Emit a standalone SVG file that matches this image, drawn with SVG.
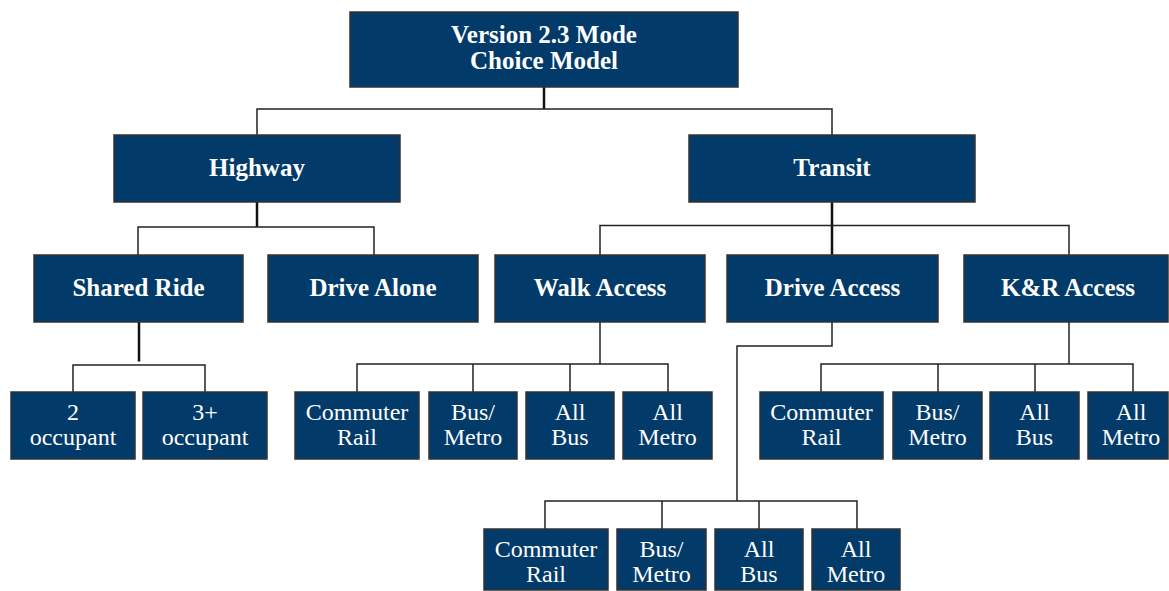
<svg xmlns="http://www.w3.org/2000/svg" width="1169" height="591" viewBox="0 0 1169 591">
<style>
.box{fill:#023a69;stroke:#333;stroke-width:1.5}
.t{font-family:"Liberation Serif","Times New Roman",serif;fill:#fff;text-anchor:middle}
.b{font-weight:bold;font-size:25px}
.r{font-size:24px}
.c{fill:none;stroke:#222;stroke-width:1.5}
.k{fill:none;stroke:#111;stroke-width:2.5}
</style>
<rect width="1169" height="591" fill="#fff"/>
<g id="connectors">
<path class="k" d="M544 87V109"/>
<path class="c" d="M257 135V109H832V135"/>
<path class="k" d="M257 202V227"/>
<path class="c" d="M138 255V227H374V255"/>
<path class="k" d="M832 202V255"/>
<path class="c" d="M600 255V225.5H1069V255"/>
<path class="k" d="M139 322V361.5"/>
<path class="c" d="M73 392V365H205V392"/>
<path class="c" d="M600 322V364M357 392V364H668V392M473 364V392M570 364V392"/>
<path class="c" d="M832 322V346H737V501M545 529V501H857V529M662 501V529M759 501V529"/>
<path class="c" d="M1069 322V364M821 392V364H1133V392M938 364V392M1035 364V392"/>
</g>
<g id="n-root"><rect class="box" x="350" y="12" width="388" height="75"/><text class="t b" x="544" y="43">Version 2.3 Mode</text><text class="t b" x="544" y="69">Choice Model</text></g>
<g id="n-highway"><rect class="box" x="114" y="135" width="286" height="67"/><text class="t b" x="257" y="176">Highway</text></g>
<g id="n-transit"><rect class="box" x="689" y="135" width="286" height="67"/><text class="t b" x="832" y="176">Transit</text></g>
<g id="n-shared"><rect class="box" x="34" y="255" width="209" height="67"/><text class="t b" x="138.5" y="296">Shared Ride</text></g>
<g id="n-alone"><rect class="box" x="268" y="255" width="210" height="67"/><text class="t b" x="373" y="296">Drive Alone</text></g>
<g id="n-walk"><rect class="box" x="495" y="255" width="210" height="67"/><text class="t b" x="600" y="296">Walk Access</text></g>
<g id="n-drive"><rect class="box" x="727" y="255" width="211" height="67"/><text class="t b" x="832.5" y="296">Drive Access</text></g>
<g id="n-kr"><rect class="box" x="964" y="255" width="204" height="67"/><text class="t b" x="1068" y="296">K&amp;R Access</text></g>
<g id="n-occ2"><rect class="box" x="11" y="392" width="124" height="67"/><text class="t r" x="73" y="420">2</text><text class="t r" x="73" y="445">occupant</text></g>
<g id="n-occ3"><rect class="box" x="143" y="392" width="124" height="67"/><text class="t r" x="205" y="420">3+</text><text class="t r" x="205" y="445">occupant</text></g>
<g id="n-w-cr"><rect class="box" x="295" y="392" width="124" height="67"/><text class="t r" x="357" y="420">Commuter</text><text class="t r" x="357" y="445">Rail</text></g>
<g id="n-w-bm"><rect class="box" x="429" y="392" width="88" height="67"/><text class="t r" x="473" y="420">Bus/</text><text class="t r" x="473" y="445">Metro</text></g>
<g id="n-w-ab"><rect class="box" x="526" y="392" width="88" height="67"/><text class="t r" x="570" y="420">All</text><text class="t r" x="570" y="445">Bus</text></g>
<g id="n-w-am"><rect class="box" x="623" y="392" width="89" height="67"/><text class="t r" x="667.5" y="420">All</text><text class="t r" x="667.5" y="445">Metro</text></g>
<g id="n-k-cr"><rect class="box" x="760" y="392" width="123" height="67"/><text class="t r" x="821.5" y="420">Commuter</text><text class="t r" x="821.5" y="445">Rail</text></g>
<g id="n-k-bm"><rect class="box" x="893" y="392" width="89" height="67"/><text class="t r" x="937.5" y="420">Bus/</text><text class="t r" x="937.5" y="445">Metro</text></g>
<g id="n-k-ab"><rect class="box" x="990" y="392" width="89" height="67"/><text class="t r" x="1034.5" y="420">All</text><text class="t r" x="1034.5" y="445">Bus</text></g>
<g id="n-k-am"><rect class="box" x="1088" y="392" width="80" height="67"/><text class="t r" x="1131" y="420">All</text><text class="t r" x="1131" y="445">Metro</text></g>
<g id="n-d-cr"><rect class="box" x="484" y="529" width="124" height="61"/><text class="t r" x="546" y="557">Commuter</text><text class="t r" x="546" y="582">Rail</text></g>
<g id="n-d-bm"><rect class="box" x="617" y="529" width="89" height="61"/><text class="t r" x="661.5" y="557">Bus/</text><text class="t r" x="661.5" y="582">Metro</text></g>
<g id="n-d-ab"><rect class="box" x="715" y="529" width="88" height="61"/><text class="t r" x="759" y="557">All</text><text class="t r" x="759" y="582">Bus</text></g>
<g id="n-d-am"><rect class="box" x="812" y="529" width="88" height="61"/><text class="t r" x="856" y="557">All</text><text class="t r" x="856" y="582">Metro</text></g>
</svg>
